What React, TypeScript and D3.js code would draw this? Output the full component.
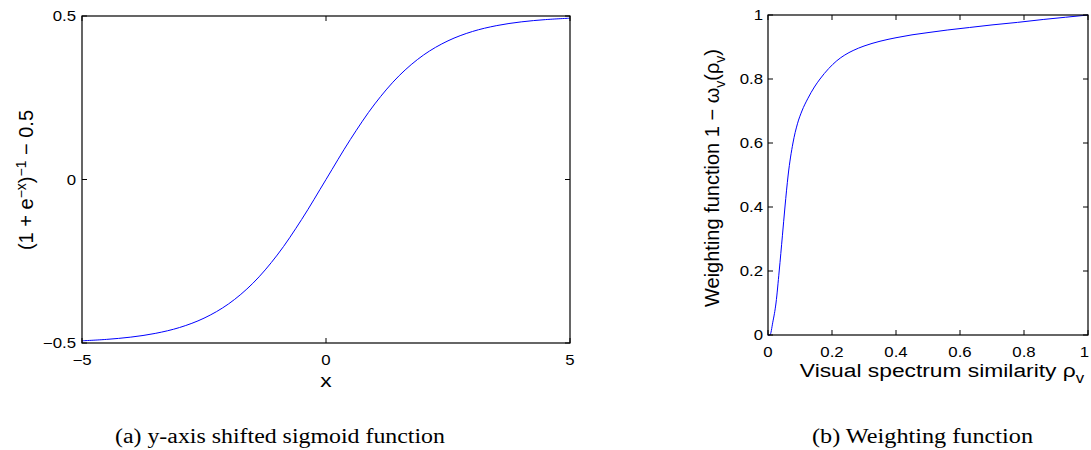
import React from "react";
import * as d3 from "d3";

// ---- Data ----
const sigX = [-5, -4.5, -4, -3.5, -3, -2.5, -2, -1.5, -1, -0.5, 0, 0.5, 1, 1.5, 2, 2.5, 3, 3.5, 4, 4.5, 5];
const sigY = [-0.4933, -0.489, -0.482, -0.4707, -0.4526, -0.4241, -0.3808, -0.3176, -0.2311, -0.1225, 0, 0.1225, 0.2311, 0.3176, 0.3808, 0.4241, 0.4526, 0.4707, 0.482, 0.489, 0.4933];
const sigXTicks = [-5, 0, 5];
const sigYTicks = [-0.5, 0, 0.5];

const rhoX = [0.0, 0.006, 0.015, 0.025, 0.035, 0.045, 0.053, 0.063, 0.078, 0.092, 0.106, 0.125, 0.145, 0.1625, 0.19, 0.215, 0.24, 0.266, 0.3, 0.35, 0.4, 0.45, 0.5, 0.56, 0.63, 0.7, 0.78, 0.86, 0.93, 1.0];
const wY = [0.0, 0.0, 0.04, 0.1, 0.2, 0.31, 0.4, 0.5, 0.6, 0.66, 0.7, 0.74, 0.775, 0.8, 0.833, 0.857, 0.875, 0.889, 0.903, 0.918, 0.929, 0.938, 0.945, 0.953, 0.961, 0.969, 0.977, 0.986, 0.993, 1.0];
const rhoTicks = [0, 0.2, 0.4, 0.6, 0.8, 1];
const wTicks = [0, 0.2, 0.4, 0.6, 0.8, 1];

const captionA = "(a) y-axis shifted sigmoid function";
const captionB = "(b) Weighting function";

const SANS = "Liberation Sans";
const SERIF = "Liberation Serif";
const TICK = 5;
const SX = 1.2; // horizontal widening of the reference's sans text

function fmt(v: number) {
  return v < 0 ? "\u2212" + String(Math.abs(v)) : String(v);
}

function T(props: { x: number; y: number; anchor?: string; size: number; rotate?: boolean; children: React.ReactNode }) {
  const tr = props.rotate
    ? `translate(${props.x},${props.y}) rotate(-90)`
    : `translate(${props.x},${props.y}) scale(${SX},1)`;
  return (
    <text transform={tr} textAnchor={props.anchor || "middle"} style={{ fontFamily: SANS }} fontSize={props.size} fill="#000">
      {props.children}
    </text>
  );
}

export default function App() {
  // Left plot frame
  const L = { x0: 82, x1: 570, y0: 16, y1: 343 };
  const xa = d3.scaleLinear().domain([-5, 5]).range([L.x0, L.x1]);
  const ya = d3.scaleLinear().domain([-0.5, 0.5]).range([L.y1, L.y0]);
  const lineA = d3
    .line<number>()
    .x((_, i) => xa(sigX[i]))
    .y((d) => ya(d))
    .curve(d3.curveCatmullRom);

  // Right plot frame
  const R = { x0: 768, x1: 1088, y0: 15, y1: 335 };
  const xb = d3.scaleLinear().domain([0, 1]).range([R.x0, R.x1]);
  const yb = d3.scaleLinear().domain([0, 1]).range([R.y1, R.y0]);
  const lineB = d3
    .line<number>()
    .x((_, i) => xb(rhoX[i]))
    .y((d) => yb(d))
    .curve(d3.curveMonotoneX);

  const TS = 14; // tick font size
  const LS = 20; // label font size
  const SUB = 14;

  return (
    <svg width={1091} height={450} style={{ display: "block", position: "absolute", left: 0, top: 0, background: "#fff" }}>
      <rect x={0} y={0} width={1091} height={450} fill="#fff" />
      {/* ===== Left plot ===== */}
      <g>
        <path d={lineA(sigY) || ""} fill="none" stroke="#0000ff" strokeWidth={1} />
        <rect x={L.x0} y={L.y0} width={L.x1 - L.x0} height={L.y1 - L.y0} fill="none" stroke="#000" strokeWidth={1.2} />
        {sigXTicks.map((t) => (
          <g key={"ax" + t}>
            <line x1={xa(t)} x2={xa(t)} y1={L.y1} y2={L.y1 - TICK} stroke="#000" />
            <line x1={xa(t)} x2={xa(t)} y1={L.y0} y2={L.y0 + TICK} stroke="#000" />
            <T x={xa(t)} y={L.y1 + 22} size={TS}>{fmt(t)}</T>
          </g>
        ))}
        {sigYTicks.map((t) => (
          <g key={"ay" + t}>
            <line x1={L.x0} x2={L.x0 + TICK} y1={ya(t)} y2={ya(t)} stroke="#000" />
            <line x1={L.x1} x2={L.x1 - TICK} y1={ya(t)} y2={ya(t)} stroke="#000" />
            <T x={L.x0 - 6} y={ya(t) + 5} anchor="end" size={TS}>{fmt(t)}</T>
          </g>
        ))}
        <T x={326} y={387} size={19}>x</T>
        <T x={33} y={180} size={LS} rotate>
          <tspan>(1 + e</tspan>
          <tspan dy={-7} fontSize={SUB}>{"\u2212x"}</tspan>
          <tspan dy={7}>)</tspan>
          <tspan dy={-7} fontSize={SUB}>{"\u2212" + "1"}</tspan>
          <tspan dy={7}>{" \u2212 0.5"}</tspan>
        </T>
      </g>

      {/* ===== Right plot ===== */}
      <g>
        <path d={lineB(wY) || ""} fill="none" stroke="#0000ff" strokeWidth={1} />
        <rect x={R.x0} y={R.y0} width={R.x1 - R.x0} height={R.y1 - R.y0} fill="none" stroke="#000" strokeWidth={1.2} />
        {rhoTicks.map((t, i) => (
          <g key={"bx" + t}>
            <line x1={xb(t)} x2={xb(t)} y1={R.y1} y2={R.y1 - TICK} stroke="#000" />
            <line x1={xb(t)} x2={xb(t)} y1={R.y0} y2={R.y0 + TICK} stroke="#000" />
            {i === rhoTicks.length - 1 ? (
              <T x={xb(t) + 1} y={R.y1 + 22} anchor="end" size={TS}>{fmt(t)}</T>
            ) : (
              <T x={xb(t)} y={R.y1 + 22} size={TS}>{fmt(t)}</T>
            )}
          </g>
        ))}
        {wTicks.map((t) => (
          <g key={"by" + t}>
            <line x1={R.x0} x2={R.x0 + TICK} y1={yb(t)} y2={yb(t)} stroke="#000" />
            <line x1={R.x1} x2={R.x1 - TICK} y1={yb(t)} y2={yb(t)} stroke="#000" />
            <T x={R.x0 - 5} y={yb(t) + 5} anchor="end" size={TS}>{fmt(t)}</T>
          </g>
        ))}
        <T x={942} y={377} size={19}>
          <tspan>Visual spectrum similarity ρ</tspan>
          <tspan dy={6} fontSize={SUB}>v</tspan>
        </T>
        <T x={719} y={178} size={LS} rotate>
          <tspan>Weighting function 1 − ω</tspan>
          <tspan dy={6} fontSize={SUB}>v</tspan>
          <tspan dy={-6}>(ρ</tspan>
          <tspan dy={6} fontSize={SUB}>v</tspan>
          <tspan dy={-6}>)</tspan>
        </T>
      </g>

      {/* ===== Captions ===== */}
      <text x={115} y={443} style={{ fontFamily: SERIF }} fontSize={20} textLength={330} lengthAdjust="spacingAndGlyphs">
        {captionA}
      </text>
      <text x={812} y={443} style={{ fontFamily: SERIF }} fontSize={20} textLength={221} lengthAdjust="spacingAndGlyphs">
        {captionB}
      </text>
    </svg>
  );
}
